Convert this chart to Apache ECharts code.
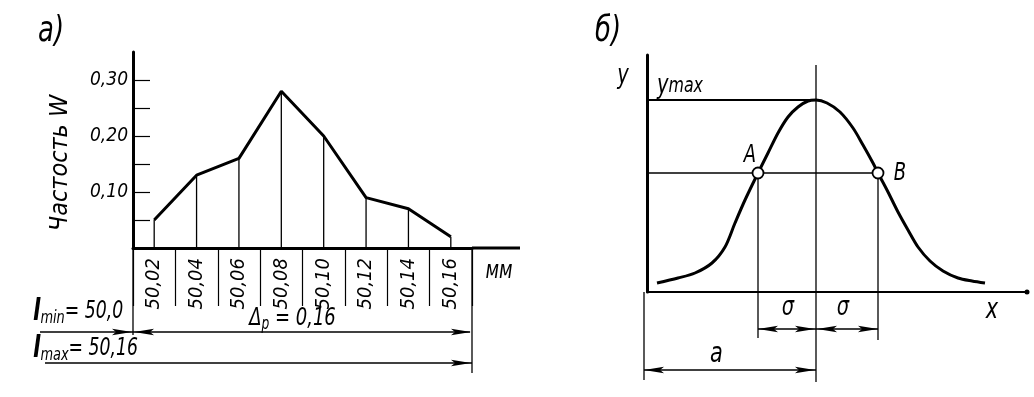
<!DOCTYPE html>
<html>
<head>
<meta charset="utf-8">
<script src="https://cdn.jsdelivr.net/npm/echarts@6/dist/echarts.min.js"></script>
<style>
  html, body { margin: 0; padding: 0; background: #fff; }
  #main { width: 1034px; height: 397px; }
</style>
</head>
<body>
<div id="main"></div>
<script>
var chart = echarts.init(document.getElementById('main'));

// а) frequency polygon
var sizeLabels = ['50,02', '50,04', '50,06', '50,08', '50,10', '50,12', '50,14', '50,16'];
var frequency = [0.05, 0.13, 0.16, 0.28, 0.20, 0.09, 0.07, 0.02];
var freqLabelTicks = [0.10, 0.20, 0.30];
var freqTicks = [0.05, 0.10, 0.15, 0.20, 0.25, 0.30];

// б) normal curve (x, y in drawing units)
var curve = [
    [10, 9], [31, 14], [48, 19], [65, 29], [78, 45], [88, 69], [98, 92],
    [111, 119], [121, 139], [131, 159], [141, 175], [151, 185], [161, 191],
    [169, 192], [180, 189], [193, 180], [206, 164], [216, 147], [226, 129],
    [231, 119], [241, 100], [251, 80], [261, 62], [271, 45], [283, 31],
    [296, 21], [311, 14], [325, 11], [338, 9]
];
var pointsAB = [[111, 119], [231, 119]];
var peak = [169, 192];

var FONT = "'DejaVu Sans Condensed','DejaVu Sans',sans-serif";

option = {
    animation: false,
    backgroundColor: '#fff',
    grid: [
        { left: 133, top: 52, width: 339, height: 196 },
        { left: 647, top: 55, width: 380, height: 237 }
    ],
    xAxis: [{
        gridIndex: 0,
        type: 'category',
        data: sizeLabels,
        boundaryGap: true,
        axisLine: { lineStyle: { color: '#000', width: 3 } },
        axisTick: { show: true, inside: false, length: 58, interval: 0, lineStyle: { color: '#000', width: 1.2 } },
        axisLabel: {
            rotate: 90, margin: 10, interval: 0, color: '#000',
            fontFamily: FONT, fontStyle: 'italic', fontSize: 20
        },
        splitLine: { show: false }
    }, {
        gridIndex: 1,
        type: 'value',
        min: 0, max: 380,
        axisLine: { lineStyle: { color: '#000', width: 2 }, symbol: ['none', 'circle'], symbolSize: [5, 5] },
        axisTick: { show: false },
        axisLabel: { show: false },
        splitLine: { show: false }
    }],
    yAxis: [{
        gridIndex: 0,
        type: 'value',
        min: 0, max: 0.35,
        name: 'Частость W',
        nameLocation: 'middle',
        nameRotate: 90,
        nameGap: 60,
        nameTextStyle: { color: '#000', fontFamily: FONT, fontStyle: 'italic', fontSize: 25, padding: [0, 26, 0, 0] },
        axisLine: { show: true, lineStyle: { color: '#000', width: 3 } },
        axisTick: { show: true, inside: true, length: 17, customValues: freqTicks, lineStyle: { color: '#000', width: 1.2 } },
        axisLabel: {
            customValues: freqLabelTicks, margin: 5, color: '#000',
            fontFamily: FONT, fontStyle: 'italic', fontSize: 19,
            formatter: function (v) { return v.toFixed(2).replace('.', ','); }
        },
        splitLine: { show: false }
    }, {
        gridIndex: 1,
        type: 'value',
        min: 0, max: 237,
        axisLine: { show: true, lineStyle: { color: '#000', width: 3 } },
        axisTick: { show: false },
        axisLabel: { show: false },
        splitLine: { show: false }
    }],
    series: [{
        type: 'bar',
        xAxisIndex: 0, yAxisIndex: 0,
        data: frequency,
        barWidth: 1.3,
        itemStyle: { color: '#000' },
        silent: true
    }, {
        type: 'line',
        xAxisIndex: 0, yAxisIndex: 0,
        data: frequency,
        symbol: 'none',
        lineStyle: { color: '#000', width: 3 },
        z: 3
    }, {
        type: 'line',
        xAxisIndex: 1, yAxisIndex: 1,
        data: curve,
        smooth: 0.3,
        symbol: 'none',
        lineStyle: { color: '#000', width: 3 },
        z: 3
    }, {
        type: 'scatter',
        xAxisIndex: 1, yAxisIndex: 1,
        data: pointsAB,
        symbol: 'circle',
        symbolSize: 11,
        itemStyle: { color: '#fff', borderColor: '#000', borderWidth: 1.8, opacity: 1 },
        z: 20
    }]
};

chart.setOption(option);

// drawing annotations, placed from the axes' own scales
function line(x1, y1, x2, y2, w) {
    return { type: 'line', z: 1, shape: { x1: x1, y1: y1, x2: x2, y2: y2 }, style: { stroke: '#000', lineWidth: w || 1.2 }, silent: true };
}
function arrow(x, y, dir) {
    var L = 20, h = 3.2;
    return { type: 'polygon', z: 1, shape: { points: [[x, y], [x - dir * L, y - h], [x - dir * L * 0.8, y], [x - dir * L, y + h]] }, style: { fill: '#000' }, silent: true };
}
// narrow drafting lettering: condensed text scaled horizontally around its anchor
function text(x, y, t, size, align, rich) {
    var s = { text: t, x: 0, y: 0, fill: '#000', font: 'italic ' + size + 'px ' + FONT, align: align || 'center', verticalAlign: 'middle' };
    if (rich) s.rich = rich;
    return { type: 'text', x: x, y: y, scaleX: 0.8, z: 2, style: s, silent: true };
}

var c0 = chart.convertToPixel({ xAxisIndex: 0 }, 0);
var c1 = chart.convertToPixel({ xAxisIndex: 0 }, 1);
var step = c1 - c0;
var x0 = c0 - step / 2;
var xEnd = x0 + sizeLabels.length * step;
var yBase = chart.convertToPixel({ yAxisIndex: 0 }, 0);

var O = chart.convertToPixel({ gridIndex: 1 }, [0, 0]);
var P = chart.convertToPixel({ gridIndex: 1 }, peak);
var A = chart.convertToPixel({ gridIndex: 1 }, pointsAB[0]);
var B = chart.convertToPixel({ gridIndex: 1 }, pointsAB[1]);

var subRich = {
    l: { fontFamily: FONT, fontStyle: 'italic', fontWeight: 'bold', fontSize: 30, fill: '#000' },
    s: { fontFamily: FONT, fontStyle: 'italic', fontSize: 18, fill: '#000', padding: [12, 0, 0, 0] },
    n: { fontFamily: FONT, fontStyle: 'italic', fontSize: 24, fill: '#000' }
};

var g = [
    // а)
    line(xEnd, yBase, xEnd + 48, yBase, 3),
    line(x0, yBase, x0, yBase + 87, 1.3),
    line(xEnd, yBase, xEnd, yBase + 125, 1.3),
    line(40, yBase + 84, xEnd - 2, yBase + 84, 1.3),
    arrow(x0 - 1, yBase + 84, 1),
    arrow(x0 + 1, yBase + 84, -1),
    arrow(xEnd - 1, yBase + 84, 1),
    line(45, yBase + 115, xEnd, yBase + 115, 1.3),
    arrow(xEnd - 1, yBase + 115, 1),
    text(51, 32, 'а)', 36),
    text(xEnd + 27, yBase + 23, 'мм', 25),
    text(33, 312, '{l|l}{s|min}{n|= 50,0}', 24, 'left', subRich),
    text(33, 349, '{l|l}{s|max}{n|= 50,16}', 24, 'left', subRich),
    text((x0 + xEnd) / 2 - 10, yBase + 70, '{n|Δ}{s|p}{n| = 0,16}', 24, 'center', {
        n: { fontFamily: FONT, fontStyle: 'italic', fontSize: 25, fill: '#000' },
        s: { fontFamily: FONT, fontStyle: 'italic', fontSize: 17, fill: '#000', padding: [14, 0, 0, 0] }
    }),

    // б)
    line(P[0], O[1] - 227, P[0], O[1] + 90, 1.3),
    line(O[0], P[1], P[0], P[1], 2),
    line(O[0], A[1], B[0], A[1], 1.3),
    line(A[0], A[1], A[0], O[1] + 46, 1.3),
    line(B[0], B[1], B[0], O[1] + 48, 1.3),
    line(O[0] - 3, O[1], O[0] - 3, O[1] + 88, 1.3),
    line(A[0], O[1] + 37, B[0], O[1] + 37, 1.3),
    arrow(A[0], O[1] + 37, -1),
    arrow(P[0] - 1, O[1] + 37, 1),
    arrow(P[0] + 1, O[1] + 37, -1),
    arrow(B[0], O[1] + 37, 1),
    line(O[0] - 3, O[1] + 78, P[0], O[1] + 78, 1.3),
    arrow(O[0] - 3, O[1] + 78, -1),
    arrow(P[0] - 1, O[1] + 78, 1),
    text(608, 32, 'б)', 36),
    text(623, 76, 'y', 27),
    text(O[0] + 10, P[1] - 14, '{y|y}{m|max}', 24, 'left', {
        y: { fontFamily: FONT, fontStyle: 'italic', fontSize: 27, fill: '#000' },
        m: { fontFamily: FONT, fontStyle: 'italic', fontSize: 22, fill: '#000' }
    }),
    text(A[0] - 8, A[1] - 18, 'A', 25),
    text(B[0] + 22, B[1], 'B', 25),
    text(992, 310, 'x', 29),
    text((A[0] + P[0]) / 2 + 1, O[1] + 16, 'σ', 27),
    text((P[0] + B[0]) / 2 - 4, O[1] + 16, 'σ', 27),
    text((O[0] + P[0]) / 2 - 15, O[1] + 62, 'a', 29)
];

chart.setOption({ graphic: g });
</script>
</body>
</html>
